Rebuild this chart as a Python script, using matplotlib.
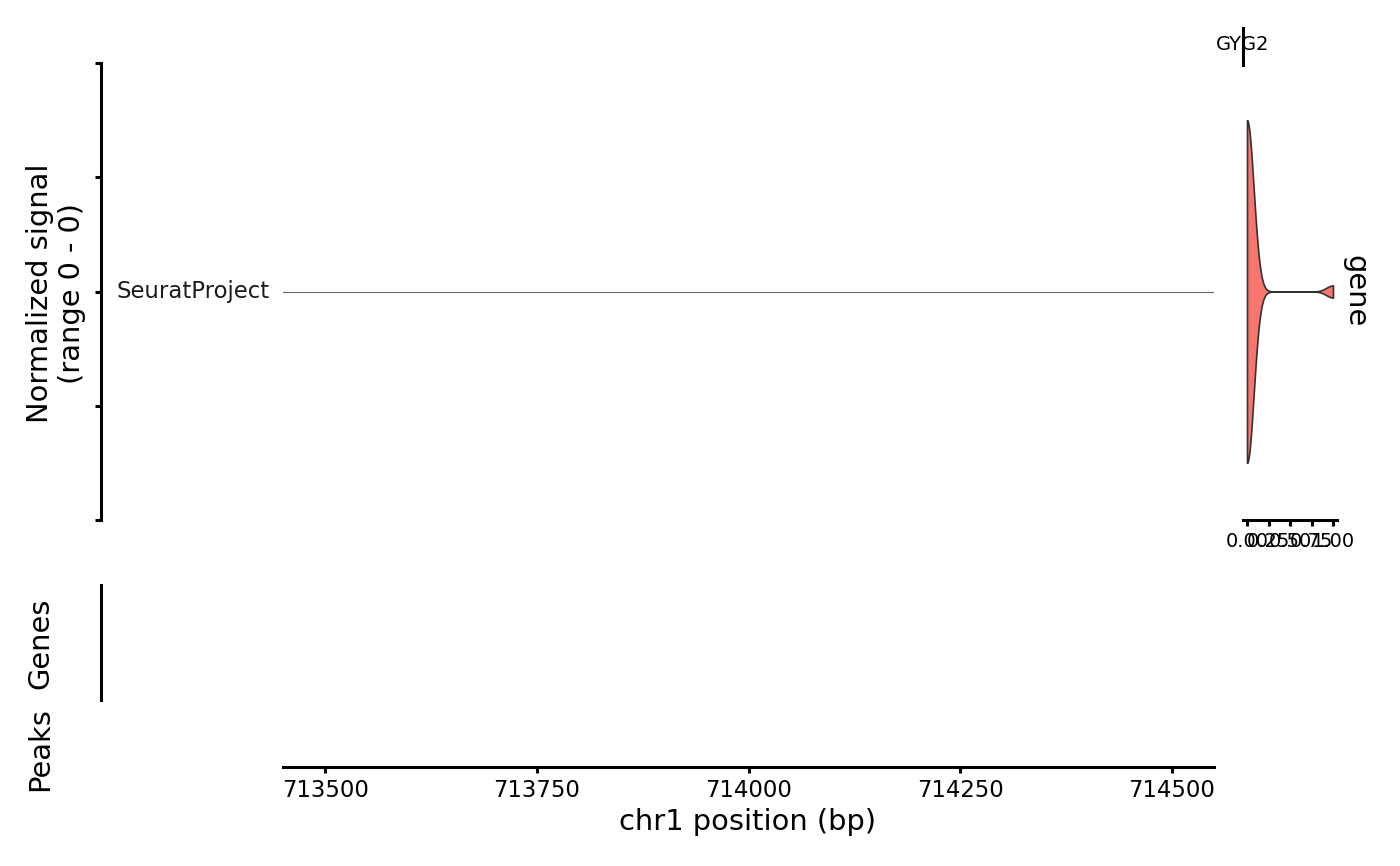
import numpy as np
import matplotlib
matplotlib.use("Agg")
import matplotlib.pyplot as plt

# region shown (bp) and axis ticks
region_start = 713450
region_end = 714550
pos_ticks = [713500, 713750, 714000, 714250, 714500]

# coverage track: one group, flat zero signal
groups = ["SeuratProject"]
cov_pos = [713450, 714550]
cov_val = [0.0, 0.0]

# expression of the gene (values and how many cells have each)
expr_values = [0.0, 1.0]
expr_counts = [28, 1]
expr_ticks = [0.0, 0.25, 0.5, 0.75, 1.0]
gene_name = "GYG2"

W, H = 1400, 866
def box(x0, y0, x1, y1):
    # pixel box (top-left origin) -> figure fraction rect
    return [x0 / W, 1 - y1 / H, (x1 - x0) / W, (y1 - y0) / H]

plt.rcParams['font.family'] = ['DejaVu Sans']
fig = plt.figure(figsize=(7, 4.33), dpi=200)

spine_w = 1.1
outward = (283 - 101) / 200 * 72

# coverage panel
ax = fig.add_axes(box(283, 63, 1214, 520))
ax.plot(cov_pos, cov_val, color="#666666", lw=0.4)
ax.set_xlim(region_start, region_end)
ax.set_ylim(-1, 1)
ax.set_yticks([-1, -0.5, 0, 0.5, 1])
ax.set_yticklabels([])
ax.set_xticks([])
for s in ["top", "right", "bottom"]:
    ax.spines[s].set_visible(False)
ax.spines["left"].set_position(("outward", outward))
ax.spines["left"].set_linewidth(spine_w)
ax.tick_params(axis="y", length=2.3, width=spine_w)
ax.text(-13 / 931, 0.5, groups[0], transform=ax.transAxes, ha="right",
        va="center", fontsize=8.2, color="#1a1a1a")
fig.text(56 / W, 1 - 293 / H, "Normalized signal\n(range 0 - 0)", rotation=90,
         ha="center", va="center", multialignment="center", fontsize=10.4)

# expression violin
axv = fig.add_axes(box(1242.7, 63, 1337.3, 520))
vals = np.array(expr_values)
cnts = np.array(expr_counts)
bw = 0.077
grid = np.linspace(vals.min(), vals.max(), 400)
dens = (cnts[None, :] * np.exp(-(grid[:, None] - vals[None, :]) ** 2 / (2 * bw ** 2))).sum(axis=1)
half = dens / dens.max() * 0.45
axv.fill_between(grid, 1 - half, 1 + half, facecolor="#F8766D",
                 edgecolor="#333333", lw=0.6)
axv.set_xlim(-0.05, 1.05)
axv.set_ylim(0.4, 1.6)
axv.set_xticks(expr_ticks)
axv.set_xticklabels(["%.2f" % t for t in expr_ticks], fontsize=7)
axv.set_yticks([])
for s in ["top", "right", "left"]:
    axv.spines[s].set_visible(False)
axv.spines["bottom"].set_linewidth(spine_w)
axv.tick_params(axis="x", length=2.3, width=spine_w, pad=2)
axv.text(1 + 18 / 94.6, 0.5, "gene", transform=axv.transAxes, rotation=-90,
         ha="center", va="center", fontsize=10.4)

# gene marker above the violin
axg = fig.add_axes(box(1242.7, 28, 1337.3, 65))
axg.set_xlim(0, 1)
axg.set_ylim(0, 1)
axg.plot([0, 0], [0, 1], color="black", lw=1.1, clip_on=False)
axg.text(0, 0.55, gene_name, ha="center", va="center", fontsize=7)
axg.axis("off")

# genes track
axgn = fig.add_axes(box(283, 585, 1214, 700))
axgn.set_xlim(region_start, region_end)
axgn.set_xticks([])
axgn.set_yticks([])
for s in ["top", "right", "bottom"]:
    axgn.spines[s].set_visible(False)
axgn.spines["left"].set_position(("outward", outward))
axgn.spines["left"].set_linewidth(spine_w)
fig.text(40 / W, 1 - 643 / H, "Genes", rotation=90, ha="center", va="center",
         fontsize=10.4)

# peaks track with position axis
axp = fig.add_axes(box(283, 712, 1214, 767))
axp.set_xlim(region_start, region_end)
axp.set_yticks([])
axp.set_xticks(pos_ticks)
axp.set_xticklabels([str(t) for t in pos_ticks], fontsize=8.2)
for s in ["top", "right", "left"]:
    axp.spines[s].set_visible(False)
axp.spines["bottom"].set_linewidth(spine_w)
axp.tick_params(axis="x", length=2.3, width=spine_w, pad=2)
fig.text(40 / W, 1 - 749 / H, "Peaks", rotation=90, ha="center", va="center",
         fontsize=10.4)
fig.text(748 / W, 1 - 822 / H, "chr1 position (bp)", ha="center",
         va="center", fontsize=10.4)

fig.savefig("out.png", dpi=200, facecolor="white")
